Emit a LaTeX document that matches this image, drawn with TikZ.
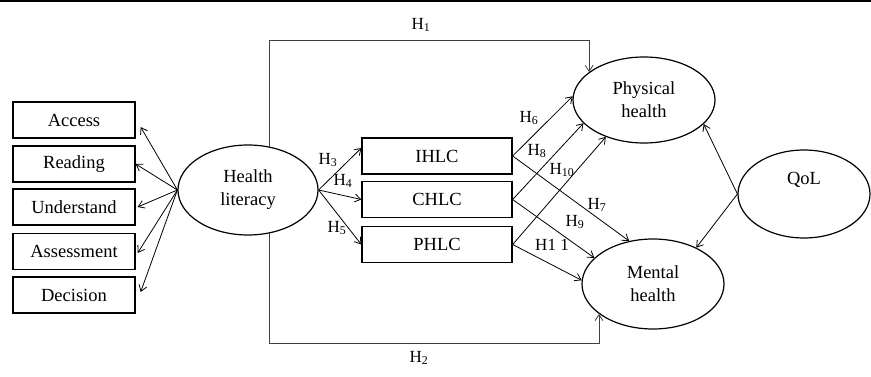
\documentclass[tikz,border=0pt]{standalone}
\usepackage{fontspec}
\setmainfont{Liberation Serif}
\usetikzlibrary{shapes.geometric,arrows.meta}
\begin{document}
\begin{tikzpicture}[x=1pt,y=-1pt,
  box/.style={draw, line width=1.3pt, rectangle, inner sep=0pt, font=\fontsize{18.5}{20}\selectfont},
  lbox/.style={box, minimum width=122pt, minimum height=36pt},
  mbox/.style={box, minimum width=150pt, minimum height=36pt},
  ell/.style={draw, ellipse, line width=1.2pt, inner sep=0pt, align=center, font=\fontsize{18.5}{23}\selectfont},
  arr/.style={-{Straight Barb[length=6pt,width=8pt]}, line width=0.8pt},
  hline/.style={line width=1pt, draw=black!75},
  lab/.style={font=\fontsize{17}{17}\selectfont, inner sep=0pt}
]
\useasboundingbox (0,0) rectangle (871,377);
\fill (0,0) rectangle (871,2.5);

% left boxes
\node[lbox] (acc) at (74,120) {Access};
\node[lbox] (rea) at (74,164) {Reading};
\node[lbox] (und) at (74,207) {Understand};
\node[lbox] (ass) at (74,251.5) {Assessment};
\node[lbox] (dec) at (74,295) {Decision};

% ellipses
\node[ell, minimum width=140pt, minimum height=90pt] (hl) at (248,190) {Health\\literacy};
\node[ell, minimum width=142pt, minimum height=86pt] (ph) at (644,100) {Physical\\health};
\node[ell, minimum width=142pt, minimum height=90pt] (mh) at (653,284) {Mental\\health};
\node[ell, minimum width=132pt, minimum height=88pt, text depth=32pt] (qol) at (804,194) {QoL};

% middle boxes
\node[mbox] (ihlc) at (437,156) {IHLC};
\node[mbox] (chlc) at (437,199.5) {CHLC};
\node[mbox] (phlc) at (437,244.5) {PHLC};

% health literacy to indicators
\draw[arr] (hl.west) -- ([shift={(5,7)}]acc.east);
\draw[arr] (hl.west) -- (rea.east);
\draw[arr] (hl.west) -- ([shift={(2,0)}]und.east);
\draw[arr] (hl.west) -- ([shift={(2,1.5)}]ass.east);
\draw[arr] (hl.west) -- ([shift={(5,-3)}]dec.east);

% health literacy to locus of control
\draw[arr] (hl.east) -- ([shift={(0,-8)}]ihlc.west);
\draw[arr] (hl.east) -- (chlc.west);
\draw[arr] (hl.east) -- (phlc.west);

% locus of control to health
\draw[arr] (ihlc.east) -- (ph.177);
\draw[arr] (ihlc.east) -- (mh.119.6);
\draw[arr] (chlc.east) -- (ph.201);
\draw[arr] (chlc.east) -- (mh.156.6);
\draw[arr] (phlc.east) -- (ph.224);
\draw[arr] (phlc.east) -- (mh.177);

% QoL
\draw[arr] (qol.west) -- (ph.338);
\draw[arr] (qol.west) -- (mh.40);

% H1 / H2 paths
\coordinate (ytop) at (0,40);
\coordinate (ybot) at (0,343);
\draw[hline, arr] (hl.64) -- (hl.64 |- ytop) -| (ph.153);
\draw[hline, arr] (hl.-64) -- (hl.-64 |- ybot) -| (mh.209);

% labels
\node[lab] (l1) at (421,25) {H\textsubscript{1}};
\node[lab] (l2) at (419,358) {H\textsubscript{2}};
\node[lab] (l3) at (328,160) {H\textsubscript{3}};
\node[lab] (l4) at (343,181) {H\textsubscript{4}};
\node[lab] (l5) at (337,228) {H\textsubscript{5}};
\node[lab] (l6) at (529,118) {H\textsubscript{6}};
\node[lab] (l8) at (537,151) {H\textsubscript{8}};
\node[lab] (l10) at (562,170) {H\textsubscript{10}};
\node[lab] (l7) at (597,205) {H\textsubscript{7}};
\node[lab] (l9) at (575,222) {H\textsubscript{9}};
\node[lab] (l11) at (552,245) {H1 1};
\end{tikzpicture}
\end{document}
